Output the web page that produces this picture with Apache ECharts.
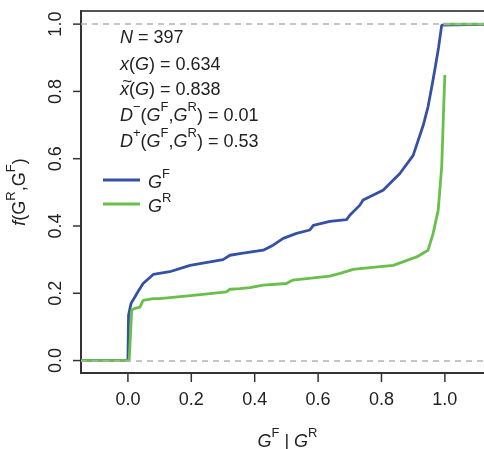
<!DOCTYPE html>
<html><head><meta charset="utf-8">
<script src="https://cdn.jsdelivr.net/npm/echarts@6/dist/echarts.min.js"></script>
<style>html,body{margin:0;padding:0;background:#fff}#c{width:484px;height:449px}</style>
</head><body><div id="c"></div>
<script>
// Tick values
var xTicks = [0, 0.2, 0.4, 0.6, 0.8, 1.0];
var yTicks = [0, 0.2, 0.4, 0.6, 0.8, 1.0];
// Series G^F (blue)
var xF = [-0.148, 0.0, 0.002, 0.01, 0.022, 0.035, 0.048, 0.08, 0.132, 0.196, 0.259, 0.30, 0.322, 0.353, 0.427, 0.458, 0.49, 0.532, 0.574, 0.585, 0.637, 0.69, 0.70, 0.732, 0.742, 0.805, 0.858, 0.90, 0.932, 0.947, 0.958, 0.968, 0.98, 0.99, 0.99, 1.155];
var yF = [0, 0, 0.135, 0.17, 0.189, 0.21, 0.229, 0.256, 0.264, 0.283, 0.293, 0.30, 0.313, 0.318, 0.328, 0.343, 0.363, 0.378, 0.388, 0.402, 0.414, 0.419, 0.432, 0.462, 0.477, 0.506, 0.556, 0.61, 0.70, 0.755, 0.81, 0.863, 0.93, 0.997, 1.0, 1.0];
// Series G^R (green)
var xR = [-0.148, 0.004, 0.012, 0.022, 0.038, 0.048, 0.08, 0.10, 0.206, 0.311, 0.322, 0.353, 0.385, 0.427, 0.50, 0.511, 0.52, 0.637, 0.669, 0.711, 0.732, 0.837, 0.911, 0.947, 0.963, 0.979, 0.99, 0.997, 1.0];
var yR = [0, 0, 0.15, 0.155, 0.159, 0.179, 0.184, 0.184, 0.194, 0.204, 0.212, 0.214, 0.217, 0.224, 0.229, 0.235, 0.239, 0.251, 0.259, 0.271, 0.273, 0.283, 0.308, 0.328, 0.378, 0.447, 0.576, 0.774, 0.849];
var xRtop = [0.995, 1.155];
var yRtop = [1.0, 1.0];
// Annotation values
var statN = 397, statMean = 0.634, statMedian = 0.838, statDminus = 0.01, statDplus = 0.53;

var X_MIN = -0.148, X_MAX = 1.155, Y_MIN = -0.037, Y_MAX = 1.039;

function pairs(xs, ys) { return xs.map(function (x, i) { return [x, ys[i]]; }); }

var FONT = '"Liberation Sans", Arial, Helvetica, sans-serif';
var BLUE = '#3451a6', GREEN = '#6abf4b', TXT = '#222';
function richSet(size) {
  return {
    n: { fontSize: size, fontFamily: FONT, color: TXT, lineHeight: size + 6, verticalAlign: 'bottom' },
    i: { fontSize: size, fontFamily: FONT, fontStyle: 'italic', color: TXT, lineHeight: size + 6, verticalAlign: 'bottom' },
    s: { fontSize: Math.round(size * 0.74), fontFamily: FONT, color: TXT, lineHeight: size + 6, verticalAlign: 'top' }
  };
}

var chart = echarts.init(document.getElementById('c'), null, { renderer: 'canvas' });
var annLines = [
  '{i|N}{n| = ' + statN + '}',
  '{i|x}{n|(}{i|G}{n|) = ' + statMean.toFixed(3) + '}',
  '{i|x}{n|(}{i|G}{n|) = ' + statMedian.toFixed(3) + '}',
  '{i|D}{s|\u2212}{n|(}{i|G}{s|F}{n|,}{i|G}{s|R}{n|) = ' + statDminus + '}',
  '{i|D}{s|+}{n|(}{i|G}{s|F}{n|,}{i|G}{s|R}{n|) = ' + statDplus + '}'
];
var annTop = [29, 56, 81, 101, 127];

var graphics = annLines.map(function (t, k) {
  return { type: 'text', left: 120, top: annTop[k], z: 10,
    style: { text: t, rich: richSet(18), fill: TXT } };
});
// tilde accent over the median's x
graphics.push({ type: 'text', left: 122, top: 74, z: 11,
  style: { text: '~', font: 'italic 17px ' + FONT, fill: TXT } });

function tickSeries(values, isX) {
  return {
    type: 'custom', name: isX ? 'xticks' : 'yticks', clip: false, silent: true, z: 20,
    data: values.map(function (v) { return [v]; }),
    encode: isX ? { x: 0 } : { y: 0 },
    renderItem: function (params, api) {
      var v = api.value(0);
      var p = isX ? api.coord([v, Y_MIN]) : api.coord([X_MIN, v]);
      return { type: 'line',
        shape: isX ? { x1: p[0], y1: p[1], x2: p[0], y2: p[1] + 9 } : { x1: p[0], y1: p[1], x2: p[0] - 8, y2: p[1] },
        style: { stroke: '#333', lineWidth: 1.5 } };
    }
  };
}

chart.setOption({
  animation: false,
  backgroundColor: '#fff',
  grid: { left: 81, top: 11, right: -10, bottom: 76, containLabel: false, outerBoundsMode: 'none', show: true, borderColor: '#555', borderWidth: 2, backgroundColor: 'transparent' },
  xAxis: {
    type: 'value', min: X_MIN, max: X_MAX,
    name: '{i|G}{s|F}{n| | }{i|G}{s|R}', nameLocation: 'middle', nameGap: 54,
    nameTextStyle: { rich: richSet(18) },
    axisLine: { show: true, onZero: false, lineStyle: { color: '#333', width: 2 } },
    axisTick: { show: false },
    axisLabel: { show: true, margin: 18, fontSize: 18, fontFamily: FONT, color: TXT, customValues: xTicks, formatter: function (v) { return v.toFixed(1); } },
    splitLine: { show: false }
  },
  yAxis: {
    type: 'value', min: Y_MIN, max: Y_MAX,
    name: '{i|f}{n|(G}{s|R}{n|,G}{s|F}{n|)}', nameLocation: 'middle', nameGap: 52, nameRotate: 90,
    nameTextStyle: { rich: richSet(18) },
    axisLine: { show: true, onZero: false, lineStyle: { color: '#333', width: 2 } },
    axisTick: { show: false },
    axisLabel: { show: true, rotate: 90, margin: 16, fontSize: 18, fontFamily: FONT, color: TXT, customValues: yTicks, formatter: function (v) { return v.toFixed(1); } },
    splitLine: { show: false }
  },
  legend: {
    show: true, orient: 'vertical', left: 98, top: 163, itemWidth: 37, itemHeight: 3, itemGap: 0,
    icon: 'rect',
    data: [{ name: 'GF' }, { name: 'GR' }],
    formatter: function (n) { return n === 'GF' ? '{i|G}{s|F}' : '{i|G}{s|R}'; },
    textStyle: { rich: richSet(18), padding: [0, 0, 0, 3] }
  },
  series: [
    {
      name: 'GF', type: 'line', symbol: 'none', data: pairs(xF, yF),
      lineStyle: { color: BLUE, width: 2.8 }, itemStyle: { color: BLUE }, z: 3,
      markLine: {
        silent: true, symbol: 'none', label: { show: false },
        lineStyle: { color: '#b3b3b3', type: [6, 5], width: 1.5 },
        data: [{ yAxis: 0 }, { yAxis: 1 }]
      }
    },
    { name: 'GR', type: 'line', symbol: 'none', data: pairs(xR, yR), lineStyle: { color: GREEN, width: 2.8 }, itemStyle: { color: GREEN }, z: 4 },
    { name: 'GR', type: 'line', symbol: 'none', data: pairs(xRtop, yRtop), lineStyle: { color: GREEN, width: 2.8 }, itemStyle: { color: GREEN }, z: 4 },
    tickSeries(xTicks, true),
    tickSeries(yTicks, false)
  ],
  graphic: graphics
});
</script></body></html>
